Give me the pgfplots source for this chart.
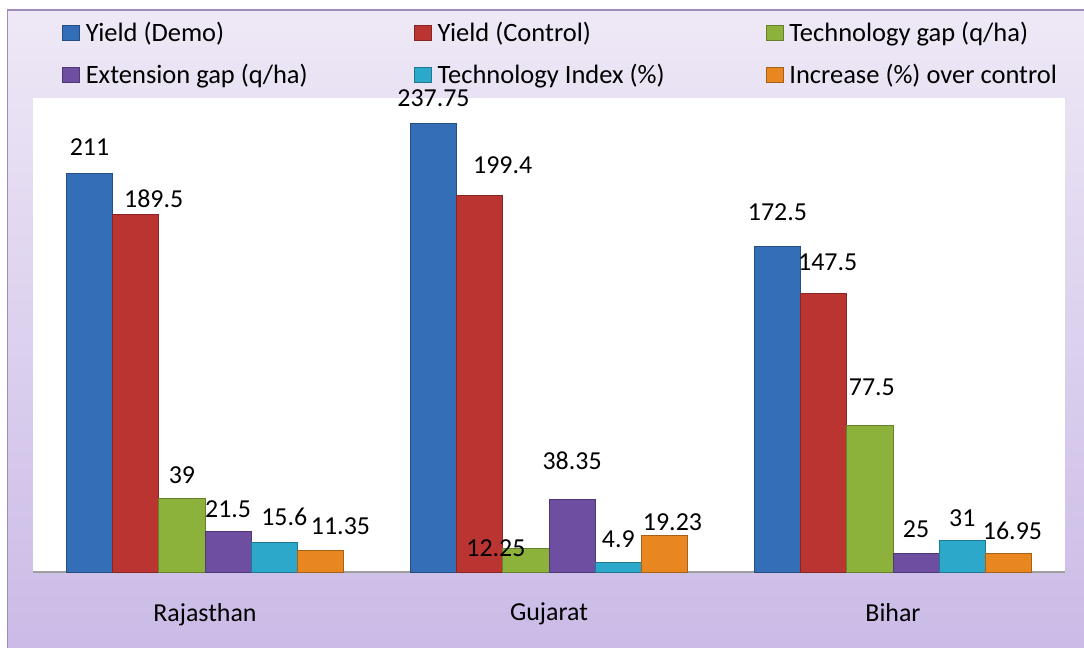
\documentclass[border=0pt]{standalone}
\usepackage{fontspec}
\setmainfont{Carlito}
\usepackage{pgfplots}
\pgfplotsset{compat=1.18}
\usepackage{pgfplotstable}

\definecolor{cblue}{RGB}{52,110,182}
\definecolor{cred}{RGB}{186,52,50}
\definecolor{cgreen}{RGB}{140,178,60}
\definecolor{cpurple}{RGB}{110,78,160}
\definecolor{ccyan}{RGB}{44,168,202}
\definecolor{corange}{RGB}{232,134,32}
\definecolor{bgtop}{RGB}{238,232,246}
\definecolor{bgbot}{RGB}{202,186,230}
\definecolor{framec}{RGB}{160,140,192}

% x y label dx(bp) dy(bp)
\pgfplotstableread{
x y lab dx dy
0 211    211    0 9
1 237.75 237.75 0 8.5
2 172.5  172.5  0 13
}\demo
\pgfplotstableread{
x y lab dx dy
0 189.5 189.5 9 3.5
1 199.4 199.4 11.5 11
2 147.5 147.5 2 11.5
}\control
\pgfplotstableread{
x y lab dx dy
0 39    39    0 7.5
1 12.25 12.25 -15 -4
2 77.5  77.5  1 15
}\techgap
\pgfplotstableread{
x y lab dx dy
0 21.5  21.5  0 7
1 38.35 38.35 0 15
2 10    25    0 8
}\extgap
\pgfplotstableread{
x y lab dx dy
0 15.6 15.6 5 8.5
1 4.9  4.9  0 7.5
2 16.5 31   0 7
}\techindex
\pgfplotstableread{
x y lab dx dy
0 11.35 11.35 10 8
1 19.23 19.23 4 2.5
2 10    16.95 2 7
}\increase

\pgfplotsset{
  mybar/.style={draw=#1!72!black, line width=0.4pt, fill=#1},
}

\begin{document}
\begin{tikzpicture}
\useasboundingbox (0,0) rectangle (542bp,324bp);
\fill[white] (0,0) rectangle (542bp,324bp);
\shade[top color=bgtop, bottom color=bgbot, draw=framec, line width=0.8pt]
  (3.75bp,-5bp) rectangle (550bp,319bp);
\begin{axis}[
  scale only axis, width=516bp, height=237bp,
  at={(16.5bp,38bp)}, anchor=south west,
  xmin=-0.5, xmax=2.5, ymin=0, ymax=251,
  clip=false,
  axis background/.style={fill=white},
  axis x line*=bottom, axis y line=none,
  x axis line style={draw=gray!75, line width=1pt},
  xtick={0,1,2}, xticklabels={Rajasthan,Gujarat,Bihar},
  major tick length=0pt,
  xticklabel style={font=\fontsize{13}{15}\selectfont, yshift=-12bp},
  ybar=0pt, bar width=23.1bp,
  point meta=explicit symbolic,
  nodes near coords,
  visualization depends on={\thisrow{dx} \as \dx},
  visualization depends on={\thisrow{dy} \as \dy},
  every node near coord/.append style={font=\fontsize{13}{15}\selectfont,
     anchor=base, xshift=\dx bp, yshift=\dy bp, text=black},
  legend columns=3,
  legend cell align=left,
  legend style={at={(0.0281,1.157)}, anchor=north west, draw=none, fill=none,
    inner sep=0pt, outer sep=0pt, row sep=9bp,
    font=\fontsize{13.3}{15}\selectfont,
    nodes={inner xsep=0pt, inner ysep=0pt, text height=9bp, text depth=3bp},
    /tikz/every odd column/.append style={column sep=3bp},
    /tikz/every even column/.append style={column sep=4bp}},
  legend image code/.code={\draw[#1] (0bp,-2.5bp) rectangle (8.5bp,5bp);},
]
\addplot[mybar=cblue] table[x=x,y=y,meta=lab] {\demo};
\addplot[mybar=cred] table[x=x,y=y,meta=lab] {\control};
\addplot[mybar=cgreen] table[x=x,y=y,meta=lab] {\techgap};
\addplot[mybar=cpurple] table[x=x,y=y,meta=lab] {\extgap};
\addplot[mybar=ccyan] table[x=x,y=y,meta=lab] {\techindex};
\addplot[mybar=corange] table[x=x,y=y,meta=lab] {\increase};
\legend{\makebox[160bp][l]{Yield (Demo)}, \makebox[160bp][l]{Yield (Control)},
  \makebox[160bp][l]{Technology gap (q/ha)}, \makebox[160bp][l]{Extension gap (q/ha)},
  \makebox[160bp][l]{Technology Index (\%)}, \makebox[160bp][l]{Increase (\%) over control}}
\end{axis}
\end{tikzpicture}
\end{document}
